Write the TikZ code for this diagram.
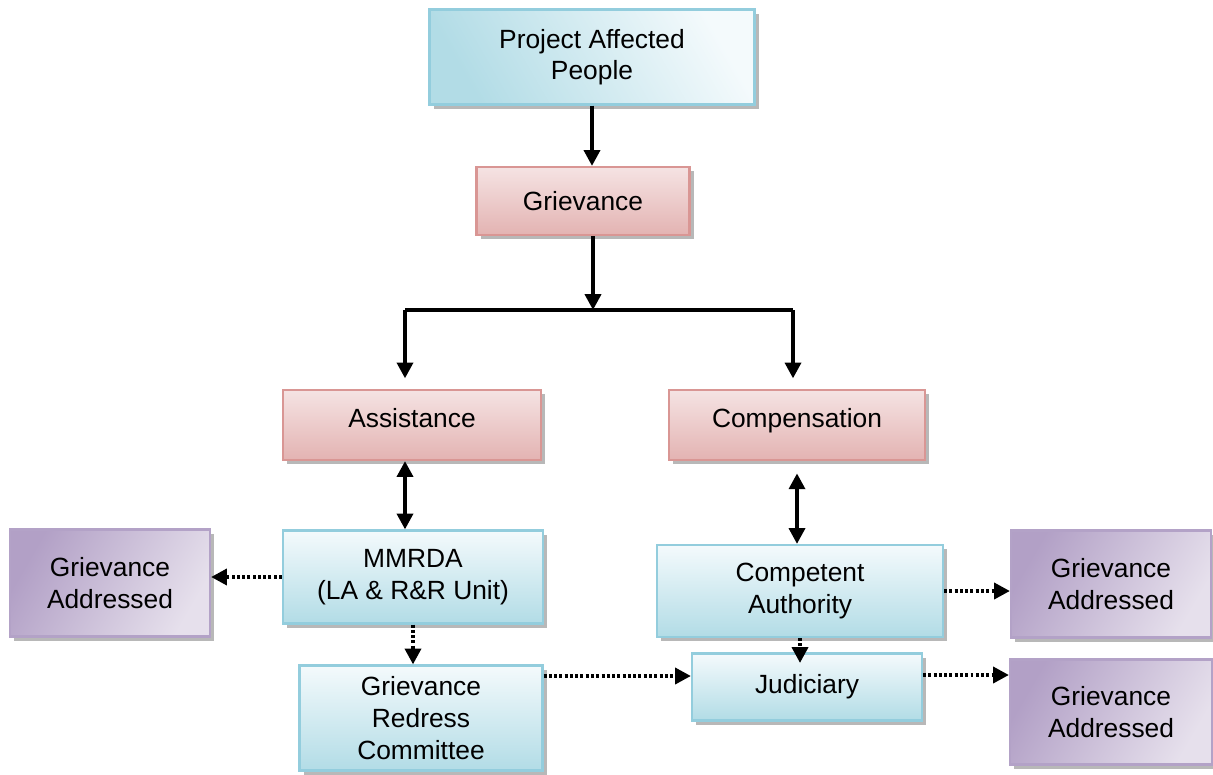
\documentclass[tikz,border=0pt]{standalone}
\usepackage{fontspec}
\setmainfont{Liberation Sans}
\usetikzlibrary{arrows.meta,shadows}
\definecolor{blueline}{HTML}{93CDDD}
\definecolor{bluelight}{HTML}{F4FAFC}
\definecolor{bluedark}{HTML}{B2DCE6}
\definecolor{redline}{HTML}{D99694}
\definecolor{redlight}{HTML}{F5E3E3}
\definecolor{reddark}{HTML}{E3B3B2}
\definecolor{purpline}{HTML}{B3A2C7}
\definecolor{purplight}{HTML}{E6E0EC}
\definecolor{purpdark}{HTML}{B2A0C6}
\tikzset{
  boxsize/.style 2 args={minimum width=#1*0.02cm, minimum height=#2*0.02cm},
  box/.style={draw, line width=1.2pt, inner sep=0pt, align=center,
    font=\fontsize{15}{18}\selectfont,
    drop shadow={shadow xshift=2.5pt, shadow yshift=-2.5pt, fill=black!35, opacity=0.8}},
  bluebox/.style={box, draw=blueline, top color=bluelight, bottom color=bluedark},
  redbox/.style={box, draw=redline, top color=redlight, bottom color=reddark},
  purpbox/.style={box, draw=purpline, left color=purpdark, right color=purplight, shading angle=60},
  arr/.style={line width=2.2pt, -{Triangle[length=9pt,width=9pt]}},
  dbl/.style={line width=2.2pt, {Triangle[length=9pt,width=9pt]}-{Triangle[length=9pt,width=9pt]}},
  dotarr/.style={line width=2.2pt, dash pattern=on 1.7pt off 1.3pt, -{Triangle[length=9pt,width=9pt]}}
}
\begin{document}
\begin{tikzpicture}[x=0.02cm,y=-0.02cm]
    \useasboundingbox (0,0) rectangle (1213,774);
    % top of the chart
    \node[bluebox, boxsize={325}{95}, left color=bluedark, right color=bluelight, shading angle=120] (pap) at (592,57) {Project Affected\\People};
    \node[redbox, boxsize={213}{68}] (grv) at (583,201) {Grievance};
    \coordinate (split) at (593,310);
    \coordinate (lsplit) at (405,310);
    \coordinate (rsplit) at (793,310);
    % the two branches
    \node[redbox, boxsize={258}{70}] (asst) at (412,425) {\raisebox{8pt}{Assistance}};
    \node[redbox, boxsize={256}{70}] (comp) at (797,425) {\raisebox{8pt}{Compensation}};
    \node[bluebox, boxsize={260}{93}] (mmrda) at (413,577) {MMRDA\\(LA \& R\&R Unit)};
    \node[bluebox, boxsize={286}{92}] (ca) at (800,591) {Competent\\Authority};
    \node[bluebox, boxsize={230}{67}] (jud) at (807,687) {\raisebox{4pt}{Judiciary}};
    \node[bluebox, boxsize={243}{105}] (grc) at (421,718) {Grievance\\Redress\\Committee};
    % outcomes
    \node[purpbox, boxsize={200}{107}] (gal) at (110,583) {Grievance\\Addressed};
    \node[purpbox, boxsize={200}{107}] (gar) at (1111,584) {Grievance\\Addressed};
    \node[purpbox, boxsize={202}{105}] (gaj) at (1111,712) {Grievance\\Addressed};
    % connectors
    \draw[arr] (pap) -- (pap |- grv.north);
    \draw[arr] (grv.south -| split) -- (split);
    \draw[line width=2.2pt] (lsplit) -- (rsplit);
    \draw[arr, shorten >=6pt] (lsplit) -- (asst.north -| lsplit);
    \draw[arr, shorten >=6pt] (rsplit) -- (comp.north -| rsplit);
    \draw[dbl] (asst.south -| lsplit) -- (mmrda.north -| lsplit);
    \draw[dbl, shorten <=7pt] (comp.south) -- (ca.north -| comp.south);
    \draw[dotarr] (mmrda.west) -- (mmrda.west -| gal.east);
    \draw[dotarr] (mmrda.south) -- (grc.north -| mmrda.south);
    \draw[dotarr] (ca.east) -- (ca.east -| gar.west);
    \draw[dotarr, shorten >=-6pt] (ca.south) -- (jud.north -| ca.south);
    \draw[dotarr] (grc.east |- 0,676) -- (jud.west |- 0,676);
    \draw[dotarr] (jud.east |- 0,675) -- (gaj.west |- 0,675);
\end{tikzpicture}
\end{document}
